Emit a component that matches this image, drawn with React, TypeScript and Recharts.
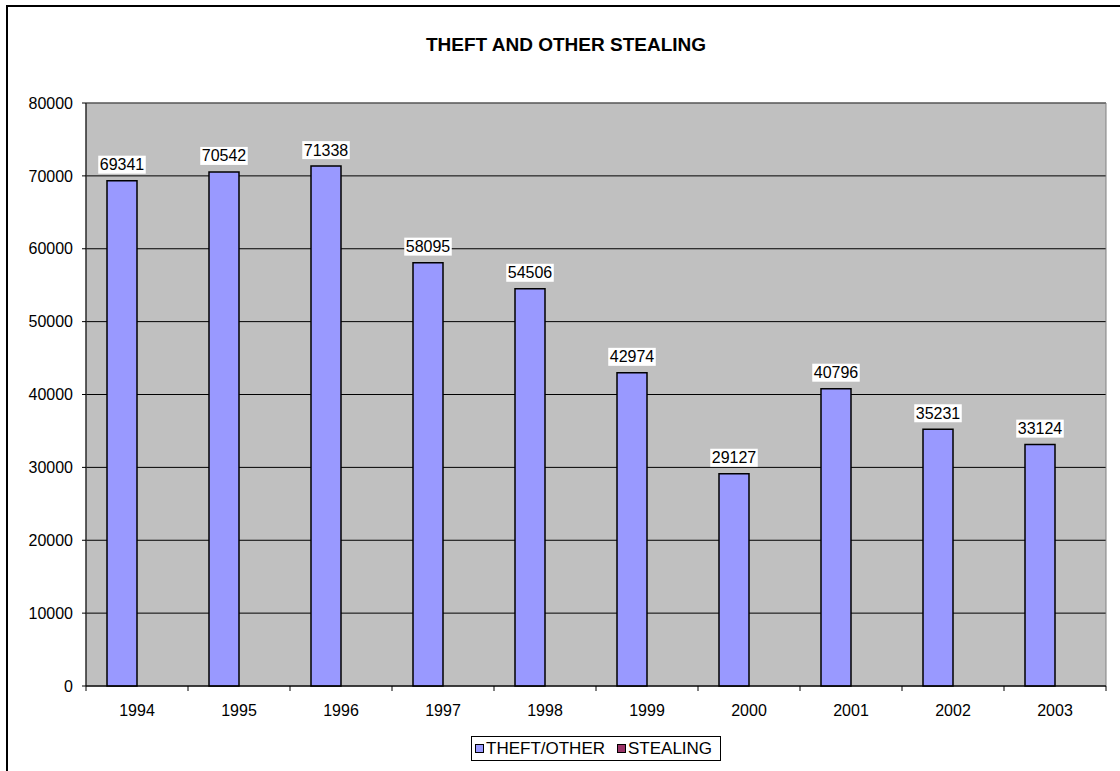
import React from 'react';
import { BarChart, Bar, XAxis, YAxis, CartesianGrid, LabelList, ReferenceArea } from 'recharts';

const years = ['1994', '1995', '1996', '1997', '1998', '1999', '2000', '2001', '2002', '2003'];
const theftOther = [69341, 70542, 71338, 58095, 54506, 42974, 29127, 40796, 35231, 33124];
const stealing: (number | null)[] = [null, null, null, null, null, null, null, null, null, null];
const yTicks = [0, 10000, 20000, 30000, 40000, 50000, 60000, 70000, 80000];
const seriesNames = ['THEFT/OTHER', 'STEALING'];
const seriesColors = ['#9999FF', '#993366'];
const title = 'THEFT AND OTHER STEALING';

const data = years.map((y, i) => ({ year: y, theft: theftOther[i], stealing: stealing[i] }));

const FONT = '"Liberation Sans", Arial, sans-serif';
const X_TICK_SIZE = 5;
const X_TICK_MARGIN = 14;

const XTick = (props: any) => {
  const { x, y, payload, index, visibleTicksCount, width } = props;
  const half =
    payload && typeof payload.offset === 'number' && payload.offset > 0
      ? payload.offset
      : width / visibleTicksCount / 2;
  const y1 = y - X_TICK_MARGIN - X_TICK_SIZE;
  const y2 = y - X_TICK_MARGIN;
  const isLast = index === visibleTicksCount - 1;
  return (
    <g>
      <line x1={x - half} x2={x - half} y1={y1} y2={y2} stroke="#000" strokeWidth={1} />
      {isLast && <line x1={x + half} x2={x + half} y1={y1} y2={y2} stroke="#000" strokeWidth={1} />}
      <text x={x} y={y} dy="0.71em" textAnchor="middle" fontSize={16} fontFamily={FONT} fill="#000">
        {payload.value}
      </text>
    </g>
  );
};

const ValueLabel = (props: any) => {
  const { x, y, width, value } = props;
  if (value == null) return null;
  const cx = x + width / 2;
  const txt = String(value);
  const w = txt.length * 8.9 + 3;
  return (
    <g>
      <rect x={cx - w / 2} y={y - 25} width={w} height={18} fill="#ffffff" />
      <text x={cx} y={y - 10.5} textAnchor="middle" fontSize={16} fontFamily={FONT} fill="#000">
        {txt}
      </text>
    </g>
  );
};

export default function App() {
  return (
    <div style={{ position: 'fixed', left: 0, top: 0, width: 1120, height: 771, overflow: 'hidden', background: '#fff' }}>
      <div
        style={{
          position: 'absolute',
          left: 6,
          top: 5,
          width: 1200,
          height: 900,
          border: '2px solid #000',
          boxSizing: 'border-box',
        }}
      />
      <div style={{ position: 'absolute', left: 0, top: 0 }}>
        <BarChart
          width={1120}
          height={771}
          data={data}
          margin={{ top: 103, right: 14, left: 0, bottom: 55 }}
          barCategoryGap={21}
          barGap={0}
        >
          <CartesianGrid horizontal vertical={false} stroke="#000" strokeWidth={1} fill="#C0C0C0" fillOpacity={1} />
          <ReferenceArea y1={0} y2={80000} fill="none" fillOpacity={0} stroke="#808080" strokeWidth={1} />
          <XAxis
            dataKey="year"
            interval={0}
            height={30}
            tickSize={X_TICK_SIZE}
            tickMargin={X_TICK_MARGIN}
            tickLine={false}
            axisLine={{ stroke: '#000', strokeWidth: 1 }}
            tick={<XTick />}
          />
          <YAxis
            domain={[0, 80000]}
            ticks={yTicks}
            interval={0}
            width={86}
            tickSize={4}
            tickMargin={9}
            axisLine={{ stroke: '#000', strokeWidth: 1 }}
            tickLine={{ stroke: '#000', strokeWidth: 1 }}
            tick={{ fill: '#000', fontSize: 16, fontFamily: FONT }}
          />
          <Bar dataKey="theft" name={seriesNames[0]} fill={seriesColors[0]} stroke="#000" strokeWidth={1.5} isAnimationActive={false}>
            <LabelList dataKey="theft" content={<ValueLabel />} />
          </Bar>
          <Bar dataKey="stealing" name={seriesNames[1]} fill={seriesColors[1]} stroke="#000" strokeWidth={1.5} isAnimationActive={false} />
        </BarChart>
      </div>
      <svg width={1120} height={771} style={{ position: 'absolute', left: 0, top: 0, pointerEvents: 'none' }}>
        <text x={566} y={51} textAnchor="middle" fontSize={19} fontWeight="bold" fontFamily={FONT} fill="#000">
          {title}
        </text>
      </svg>
      <div
        style={{
          position: 'absolute',
          left: 471,
          top: 736,
          height: 25,
          boxSizing: 'border-box',
          border: '1px solid #000',
          background: '#fff',
          display: 'flex',
          alignItems: 'center',
          padding: '0 8px 0 3px',
          fontFamily: FONT,
          fontSize: 17,
          color: '#000',
          whiteSpace: 'nowrap',
        }}
      >
        {seriesNames.map((n, i) => (
          <div key={n} style={{ display: 'flex', alignItems: 'center', marginRight: i === 0 ? 12 : 0 }}>
            <div
              style={{
                width: 9,
                height: 9,
                boxSizing: 'border-box',
                border: '1px solid #000',
                background: seriesColors[i],
                marginRight: 2,
              }}
            />
            <span>{n}</span>
          </div>
        ))}
      </div>
    </div>
  );
}
